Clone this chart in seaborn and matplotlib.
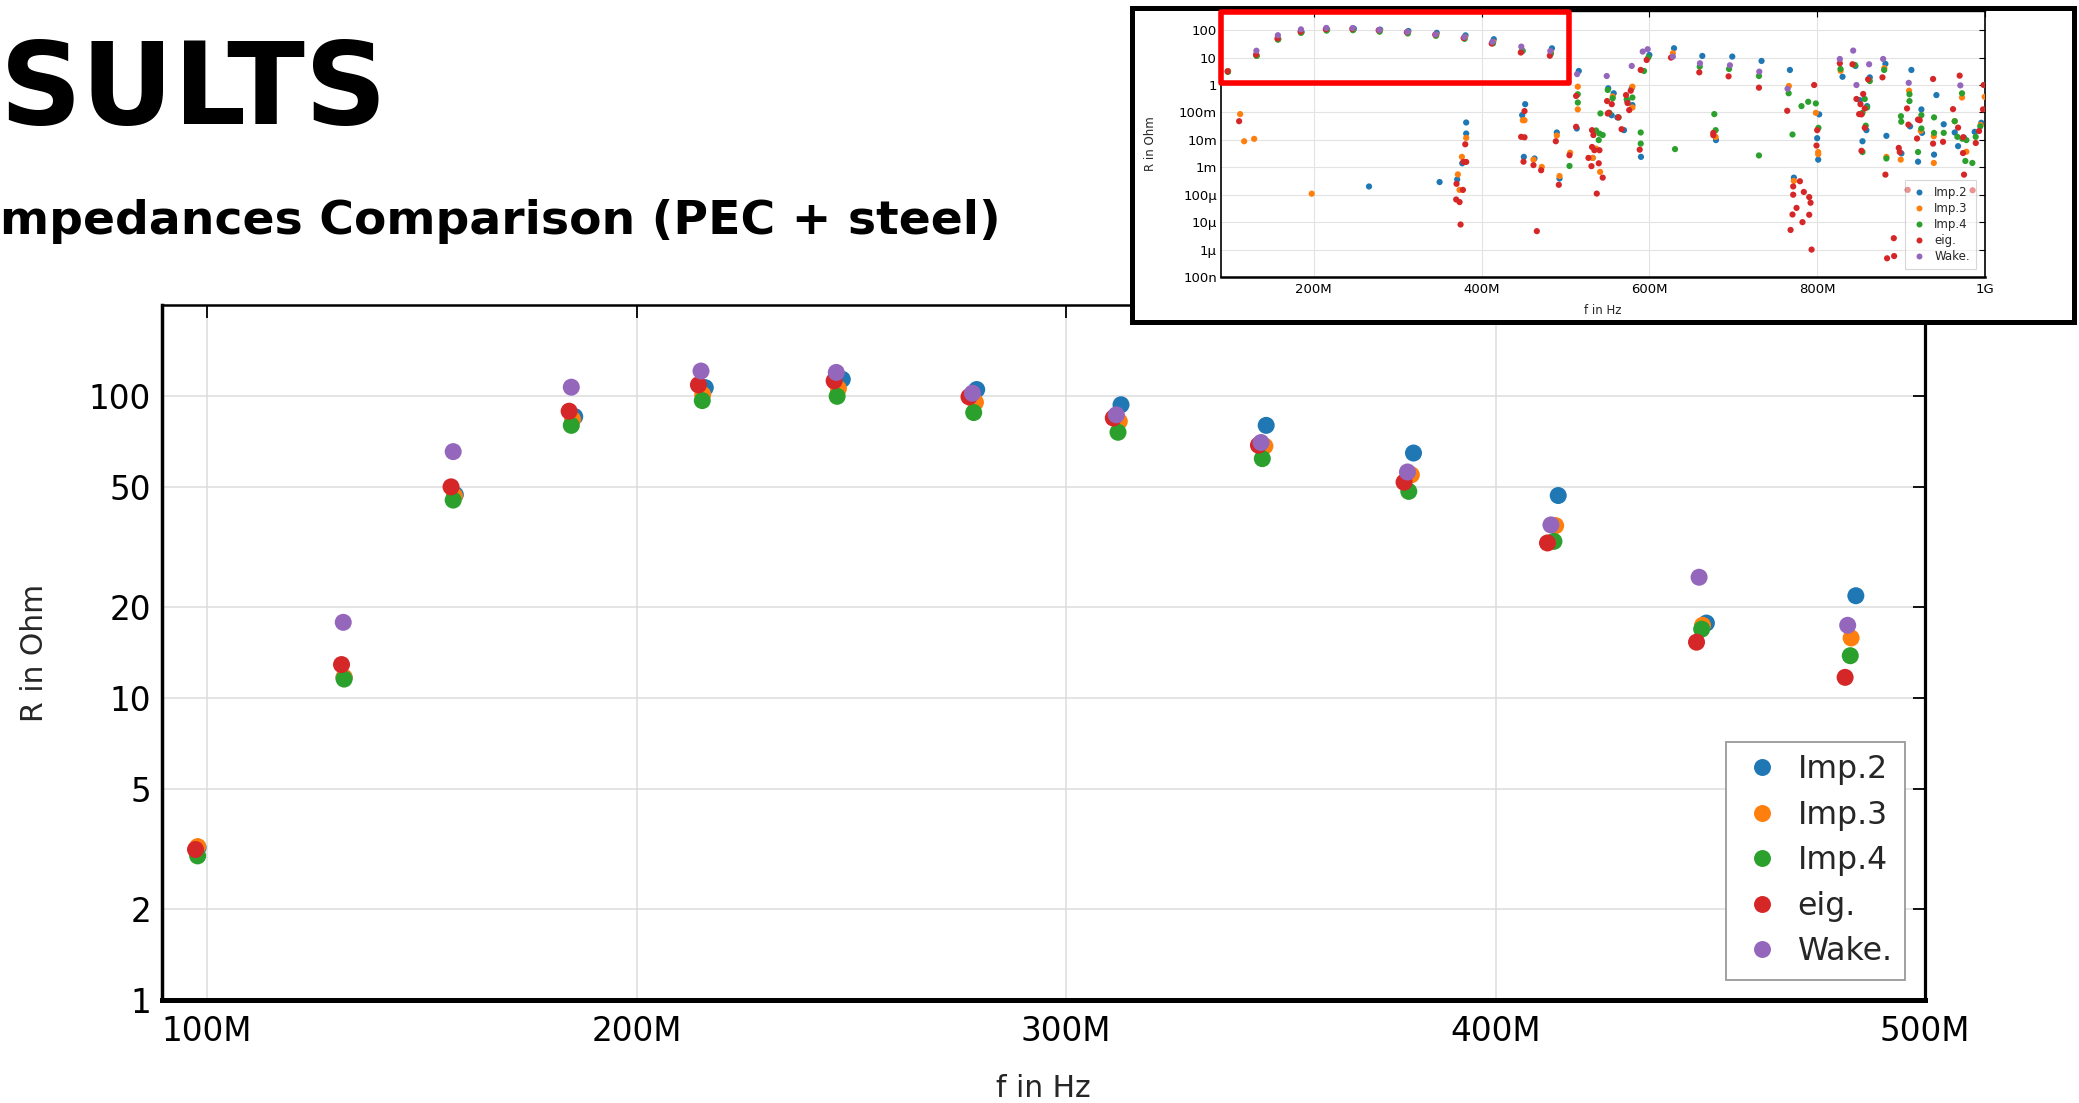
import numpy as np
import pandas as pd
import matplotlib
matplotlib.use("Agg")
import matplotlib.pyplot as plt
from matplotlib.lines import Line2D
from matplotlib.patches import Rectangle
from matplotlib.ticker import NullLocator
import seaborn as sns

W, H, DPI = 2079, 1103, 100

sns.set_style("white")
plt.rcParams["font.family"] = ["DejaVu Sans"]

series = ["Imp.2", "Imp.3", "Imp.4", "eig.", "Wake."]
colors = ["#1f77b4", "#ff7f0e", "#2ca02c", "#d62728", "#9467bd"]

# Resonances up to 500 MHz (frequency in MHz, resistance in Ohm)
imp2_f = [97.9, 131.9, 157.8, 185.6, 216.0, 247.9, 279.2, 312.8, 346.6, 380.9, 414.6, 449.1, 483.9]
imp2_r = [3.2, 11.7, 47.1, 85.4, 106.5, 113.5, 105.0, 93.5, 79.9, 64.7, 46.8, 17.7, 21.8]
imp3_f = [97.8, 131.9, 157.6, 185.1, 215.4, 247.0, 278.9, 312.4, 346.3, 380.4, 414.0, 448.2, 482.8]
imp3_r = [3.22, 11.7, 46.7, 83.6, 101.0, 105.7, 95.2, 82.4, 68.2, 54.8, 37.2, 17.4, 15.8]
imp4_f = [97.8, 131.9, 157.3, 184.8, 215.3, 246.7, 278.5, 312.1, 345.7, 379.8, 413.6, 448.0, 482.6]
imp4_r = [3.0, 11.55, 45.2, 79.9, 96.5, 99.7, 88.1, 75.8, 62.0, 48.3, 33.0, 16.9, 13.8]
eig_f = [97.3, 131.3, 156.8, 184.3, 214.4, 246.0, 277.4, 311.0, 344.8, 378.7, 412.1, 446.8, 481.4]
eig_r = [3.15, 12.9, 50.0, 89.0, 108.8, 112.2, 99.3, 84.5, 68.7, 51.8, 32.6, 15.3, 11.7]
wake_f = [131.7, 157.3, 184.8, 215.0, 246.5, 278.2, 311.7, 345.4, 379.5, 412.9, 447.4, 482.0]
wake_r = [17.8, 65.4, 106.9, 120.9, 119.6, 102.1, 86.6, 70.1, 56.0, 37.4, 25.1, 17.4]

# Further modes of the full band up to 1 GHz
imp2_wide_f = [265.9, 350.0, 371.0, 377.0, 381.7, 381.7, 448.4, 450.4, 452.0, 463.1,
               489.7, 492.9, 513.5, 515.9, 532.5, 551.0, 555.0, 557.5, 561.9, 569.8,
               573.8, 579.0, 579.8, 590.0, 600.0, 629.4, 663.1, 679.4, 698.8, 733.7,
               767.5, 772.2, 800.0, 801.2, 802.4, 830.2, 845.6, 850.8, 854.0, 858.7,
               859.5, 862.7, 881.3, 882.5, 900.4, 910.7, 912.3, 920.2, 924.2, 925.0,
               939.3, 942.1, 950.8, 963.9, 967.9, 975.0, 987.7, 995.6]
imp2_wide_r = [2.0e-4, 2.9e-4, 3.6e-4, 1.4e-3, 0.017, 0.043, 0.080, 2.4e-3, 0.20, 2.1e-3,
               0.0186, 3.9e-4, 0.026, 3.25, 2.2e-3, 0.76, 0.079, 0.50, 0.066, 0.0226,
               0.26, 0.77, 0.186, 2.4e-3, 12.5, 21.9, 11.5, 9.8e-3, 10.9, 7.55,
               3.54, 4.2e-4, 0.0115, 1.9e-3, 0.085, 2.0, 4.96, 0.28, 8.9e-3, 0.0226,
               0.17, 1.9, 5.9, 0.014, 3.2e-3, 0.031, 3.54, 1.6e-3, 0.129, 0.018,
               2.9e-3, 0.43, 0.037, 0.0186, 5.9e-3, 0.012, 0.0196, 0.042]
imp3_wide_f = [112.3, 117.1, 129.0, 197.6, 371.8, 373.8, 376.6, 381.7, 449.2, 451.2,
               461.9, 471.8, 489.7, 492.9, 505.6, 514.7, 514.7, 532.5, 536.5, 541.3,
               556.3, 579.8, 579.8, 628.0, 679.0, 766.3, 772.2, 798.4, 801.2, 801.2,
               828.0, 880.0, 882.5, 899.6, 909.5, 923.4, 939.0, 939.0, 963.9, 972.6,
               977.8, 994.8, 999.6]
imp3_wide_r = [0.087, 0.0089, 0.0109, 1.09e-4, 5.5e-4, 1.5e-4, 2.4e-3, 0.0118, 0.052, 0.052,
               1.9e-3, 1.03e-3, 0.0144, 4.8e-4, 3.4e-3, 0.87, 0.129, 2.2e-3, 4.8e-3, 6.8e-4,
               0.38, 0.87, 0.152, 14.4, 0.0128, 0.92, 3.2e-4, 0.097, 3.6e-3, 3.0e-3,
               3.3, 4.1, 2.4e-3, 1.9e-3, 0.62, 0.0214, 0.0136, 1.44e-3, 0.048, 0.35,
               3.7e-3, 0.035, 0.37]
imp4_wide_f = [504.8, 514.7, 514.7, 536.5, 539.7, 540.5, 541.7, 544.4, 550.4, 552.4,
               556.3, 563.4, 573.0, 579.8, 589.7, 589.7, 593.6, 598.8, 630.6, 660.0,
               677.4, 679.0, 695.0, 730.6, 730.6, 766.0, 770.6, 781.3, 789.3, 798.4,
               801.5, 827.8, 845.0, 854.0, 854.0, 856.7, 857.9, 859.5, 862.7, 879.8,
               882.5, 899.8, 900.2, 910.0, 910.0, 920.2, 924.2, 924.2, 939.3, 939.3,
               950.8, 963.9, 967.1, 972.6, 973.0, 976.6, 977.8, 984.9, 988.9, 994.4]
imp4_wide_r = [1.12e-3, 0.46, 0.23, 0.022, 9.8e-3, 0.017, 0.092, 0.015, 0.66, 0.097,
               0.33, 0.066, 0.30, 0.35, 0.0186, 7.3e-3, 3.25, 10.2, 4.6e-3, 4.7,
               0.087, 0.0226, 3.85, 2.13, 2.7e-3, 0.50, 0.0157, 0.17, 0.245, 0.213,
               0.0275, 3.85, 5.4, 0.097, 3.6e-3, 0.31, 0.033, 0.152, 1.4, 3.54,
               2.1e-3, 0.073, 0.046, 0.46, 0.26, 3.6e-3, 0.08, 0.026, 0.066, 0.018,
               0.018, 0.048, 0.0129, 0.5, 0.011, 1.7e-3, 9.8e-3, 1.44e-3, 0.0129, 0.031]
eig_wide_f = [111.1, 369.8, 370.2, 373.8, 375.0, 377.8, 378.5, 380.6, 381.7, 447.2,
              450.0, 451.2, 451.2, 461.9, 465.9, 471.0, 488.5, 492.1, 504.8, 512.7,
              512.7, 527.4, 531.0, 531.7, 531.7, 533.3, 534.5, 537.3, 539.7, 540.5,
              544.4, 549.6, 550.4, 551.5, 555.2, 563.0, 566.9, 572.2, 574.0, 576.0,
              577.8, 588.5, 589.7, 596.8, 625.8, 659.5, 676.2, 676.2, 694.4, 730.6,
              764.3, 768.3, 770.6, 771.4, 771.4, 775.4, 779.4, 782.5, 784.1, 790.5,
              790.5, 792.1, 793.3, 796.4, 799.2, 800.0, 827.0, 842.1, 846.8, 850.0,
              851.6, 852.8, 852.8, 854.8, 856.7, 856.7, 860.7, 877.8, 881.3, 883.3,
              891.3, 891.7, 897.2, 898.4, 907.1, 907.9, 908.7, 919.0, 920.2, 922.2,
              938.1, 938.1, 950.0, 961.9, 967.9, 969.8, 973.8, 974.0, 975.0, 985.2,
              989.0, 992.9, 997.6, 998.4]
eig_wide_r = [0.048, 6.7e-5, 2.5e-4, 5.4e-5, 8.2e-6, 1.5e-4, 1.57e-3, 6.9e-3, 1.57e-3, 0.0129,
              1.6e-3, 0.112, 0.0124, 1.2e-3, 4.7e-6, 7.8e-4, 8.9e-3, 2.3e-4, 2.75e-3, 0.40,
              0.030, 2.2e-3, 1.1e-3, 0.0226, 5.5e-3, 0.015, 4.2e-3, 1.1e-4, 1.4e-3, 4.2e-3,
              4.2e-4, 0.26, 0.091, 0.097, 0.20, 0.066, 0.0245, 0.43, 0.22, 0.122,
              0.62, 4.4e-3, 3.54, 8.2, 10.0, 2.9, 0.0179, 0.0148, 2.07, 0.80,
              0.115, 5.2e-6, 1.9e-5, 2.0e-4, 1.0e-4, 3.3e-5, 3.1e-4, 1.0e-5, 1.26e-4, 8.2e-5,
              1.86e-5, 5.1e-5, 1.0e-6, 1.0, 6.2e-3, 0.0226, 6.2, 5.7, 0.31, 0.087,
              0.20, 0.085, 4.0e-3, 0.47, 0.14, 0.0275, 1.61, 1.9, 5.4e-4, 4.8e-7,
              2.6e-6, 5.8e-7, 5.1e-3, 3.6e-3, 0.14, 1.5e-4, 0.036, 0.0112, 0.055, 0.052,
              1.66, 7.3e-3, 8.5e-3, 0.132, 0.028, 2.2, 3.3e-3, 0.0125, 5.4e-4, 1.45e-4,
              7.7e-3, 0.021, 0.129, 1.0]
wake_wide_f = [513.9, 549.2, 579.0, 592.1, 598.0, 628.0, 660.3, 696.0, 731.0, 764.7,
               827.0, 842.9, 846.8, 861.9, 878.6, 909.1, 970.6]
wake_wide_r = [2.5, 2.13, 4.96, 16.6, 20.2, 10.9, 6.2, 5.25, 3.07, 0.73,
               8.9, 18.0, 1.0, 5.7, 8.9, 1.2, 0.97]

main_xticks = [100, 200, 300, 400, 500]
main_xlabels = ["100M", "200M", "300M", "400M", "500M"]
main_yticks = [1, 2, 5, 10, 20, 50, 100]
main_ylabels = ["1", "2", "5", "10", "20", "50", "100"]
wide_xticks = [200, 400, 600, 800, 1000]
wide_xlabels = ["200M", "400M", "600M", "800M", "1G"]
wide_yticks = [1e-7, 1e-6, 1e-5, 1e-4, 1e-3, 1e-2, 1e-1, 1, 10, 100]
wide_ylabels = ["100n", "1µ", "10µ", "100µ", "1m", "10m", "100m", "1", "10", "100"]

main_sets = [(imp2_f, imp2_r), (imp3_f, imp3_r), (imp4_f, imp4_r), (eig_f, eig_r), (wake_f, wake_r)]
wide_sets = [(imp2_wide_f, imp2_wide_r), (imp3_wide_f, imp3_wide_r), (imp4_wide_f, imp4_wide_r),
             (eig_wide_f, eig_wide_r), (wake_wide_f, wake_wide_r)]

main_df = pd.concat([pd.DataFrame({"f": f, "R": r, "series": name})
                     for name, (f, r) in zip(series, main_sets)], ignore_index=True)
wide_df = pd.concat([pd.DataFrame({"f": list(f0) + list(f1), "R": list(r0) + list(r1), "series": name})
                     for name, (f0, r0), (f1, r1) in zip(series, main_sets, wide_sets)],
                    ignore_index=True)

fig = plt.figure(figsize=(W / DPI, H / DPI), dpi=DPI, facecolor="white")

# Slide heading
fig.text(0.0, 1 - 123.5 / H, "SULTS", ha="left", va="baseline",
         fontsize=82, fontweight="bold", color="black")
fig.text(0.0, 1 - 233.5 / H, "mpedances Comparison (PEC + steel)", ha="left",
         va="baseline", fontsize=34.0, fontweight="bold", color="black")

# Main plot: 90 MHz - 500 MHz
ax = fig.add_axes([162 / W, 1 - 1000 / H, 1763 / W, 695 / H], zorder=1)
sns.scatterplot(data=main_df, x="f", y="R", hue="series", hue_order=series,
                palette=colors, s=150, linewidth=0, legend=False, ax=ax, zorder=3)
ax.set_yscale("log")
ax.set_xlim(89.5, 500)
ax.set_ylim(1, 200)
ax.set_xticks(main_xticks)
ax.set_xticklabels(main_xlabels)
ax.set_yticks(main_yticks)
ax.set_yticklabels(main_ylabels)
ax.yaxis.set_minor_locator(NullLocator())
ax.xaxis.set_minor_locator(NullLocator())
ax.grid(True, color="#dcdcdc", linewidth=1.1)
ax.set_axisbelow(True)
ax.tick_params(direction="in", length=9, width=1.3, top=True, right=True,
               labelsize=23.5, colors="black")
ax.tick_params(axis="x", pad=11)
ax.tick_params(axis="y", pad=8)
for side, lw in [("left", 2.5), ("bottom", 3.6), ("top", 1.8), ("right", 2.3)]:
    ax.spines[side].set_linewidth(lw)
    ax.spines[side].set_color("black")
ax.set_xlabel("f in Hz", fontsize=21.5)
ax.set_ylabel("R in Ohm", fontsize=21.5)
ax.xaxis.set_label_coords(0.5, -0.1065)
ax.yaxis.set_label_coords(-0.0643, 0.5)

handles = [Line2D([], [], marker="o", linestyle="", markersize=12.2, markerfacecolor=c,
                  markeredgewidth=0, color=c) for c in colors]
leg = ax.legend(handles, series, loc="lower right", bbox_to_anchor=(0.9887, 0.0288),
                fontsize=22.7, frameon=True, fancybox=False, framealpha=1.0,
                edgecolor="#9a9a9a", borderpad=0.4, handlelength=1.5,
                handletextpad=0.38, labelspacing=0.46, borderaxespad=0)
leg.get_frame().set_linewidth(1.3)

# Framed overview of the full band up to 1 GHz
frame = fig.add_axes([1132 / W, 1 - 322 / H, 942 / W, 314 / H], zorder=5)
frame.set_facecolor("white")
frame.set_xticks([])
frame.set_yticks([])
for s in frame.spines.values():
    s.set_linewidth(3.6)
    s.set_color("black")

axin = fig.add_axes([1221 / W, 1 - 277 / H, 764 / W, 266 / H], zorder=6)
sns.scatterplot(data=wide_df, x="f", y="R", hue="series", hue_order=series,
                palette=colors, s=20, linewidth=0, legend=False, ax=axin, zorder=3)
axin.set_yscale("log")
axin.set_xlim(89.5, 1000)
axin.set_ylim(1e-7, 500)
axin.set_xticks(wide_xticks)
axin.set_xticklabels(wide_xlabels)
axin.set_yticks(wide_yticks)
axin.set_yticklabels(wide_ylabels)
axin.yaxis.set_minor_locator(NullLocator())
axin.xaxis.set_minor_locator(NullLocator())
axin.grid(True, color="#e3e3e3", linewidth=0.8)
axin.set_axisbelow(True)
axin.tick_params(direction="in", length=4, width=0.8, top=True, right=True,
                 labelsize=9.5, colors="black")
axin.tick_params(axis="x", pad=4)
axin.tick_params(axis="y", pad=3)
for side, lw in [("left", 1.2), ("bottom", 1.8), ("top", 1.0), ("right", 1.2)]:
    axin.spines[side].set_linewidth(lw)
    axin.spines[side].set_color("black")
axin.set_xlabel("f in Hz", fontsize=8.5)
axin.set_ylabel("R in Ohm", fontsize=8.5)
axin.xaxis.set_label_coords(0.5, -0.1015)
axin.yaxis.set_label_coords(-0.0838, 0.5)

small_handles = [Line2D([], [], marker="o", linestyle="", markersize=4.3, markerfacecolor=c,
                        markeredgewidth=0, color=c) for c in colors]
leg_in = axin.legend(small_handles, series, loc="lower right", bbox_to_anchor=(0.988, 0.029),
                     fontsize=8.5, frameon=True, fancybox=False, framealpha=0.5,
                     edgecolor="#b0b0b0", borderpad=0.5, handlelength=1.4,
                     handletextpad=0.6, labelspacing=0.27, borderaxespad=0)
leg_in.get_frame().set_linewidth(0.8)

# Highlight of the range shown in the main plot
axin.add_patch(Rectangle((90, 1.18), 414, 450 - 1.18, transform=axin.transData,
                         fill=False, edgecolor="#ff0000", linewidth=4,
                         joinstyle="round", clip_on=False, zorder=10))

fig.savefig("out.png", dpi=DPI, facecolor="white")
